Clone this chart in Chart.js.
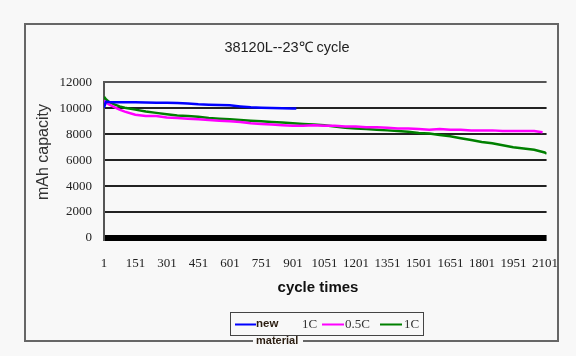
<!DOCTYPE html>
<html><head><meta charset="utf-8">
<script src="https://cdn.jsdelivr.net/npm/chart.js@4.4.1/dist/chart.umd.min.js"></script>
<style>html,body{margin:0;padding:0;background:#f8f8f8}canvas{display:block}</style>
</head><body>
<canvas id="c" width="576" height="356"></canvas>
<script>
// ---- data ----
const chartTitle = "38120L--23℃ cycle";
const xAxisTitle = "cycle times";
const yAxisTitle = "mAh capacity";
const cycleTicks = [1,151,301,451,601,751,901,1051,1201,1351,1501,1651,1801,1951,2101];
const yTicks = [0,2000,4000,6000,8000,10000,12000];

const seriesLabels = ["new material 1C", "0.5C", "1C"];

const cyclesNew = [1,10,25,50,75,100,150,200,250,300,350,400,450,500,550,600,650,700,750,800,850,900,917];
const capNew1C  = [10050,10500,10480,10470,10470,10460,10460,10450,10440,10430,10420,10380,10320,10280,10250,10230,10150,10080,10050,10020,10000,9990,9980];

const cycles05C = [1,10,25,50,75,100,150,200,250,300,350,400,450,500,550,600,650,700,750,800,850,900,950,1000,1050,1100,1150,1200,1250,1300,1350,1400,1450,1500,1550,1600,1650,1700,1750,1800,1850,1900,1950,2000,2050,2090];
const cap05C    = [10600,10450,10300,10100,9900,9750,9500,9400,9400,9300,9250,9200,9150,9100,9050,9000,8950,8850,8800,8750,8700,8650,8650,8700,8650,8650,8600,8600,8550,8550,8500,8450,8450,8400,8350,8400,8350,8350,8300,8300,8300,8250,8250,8250,8250,8150];

const cycles1C = [1,10,25,50,75,100,150,200,250,300,350,400,450,500,550,600,650,700,750,800,850,900,950,1000,1050,1100,1150,1200,1250,1300,1350,1400,1450,1500,1550,1600,1650,1700,1750,1800,1850,1900,1950,2000,2050,2100,2110];
const cap1C    = [10900,10700,10500,10300,10150,10050,9900,9750,9650,9550,9450,9400,9350,9250,9200,9150,9100,9050,9000,8950,8900,8850,8800,8750,8700,8600,8500,8450,8400,8350,8300,8250,8200,8100,8050,7950,7850,7700,7550,7400,7300,7150,7000,6900,6800,6600,6500];

const seriesColors = ["#0000ff", "#ff00ff", "#008000"];

function pts(xs, ys){ return xs.map((x,i)=>({x:x, y:ys[i]})); }

const BG = "#f8f8f8";

const decorPlugin = {
  id: 'decor',
  beforeDraw(chart){
    const c = chart.ctx;
    c.save();
    c.fillStyle = BG;
    c.fillRect(0,0,chart.width,chart.height);
    c.restore();
  },
  afterDraw(chart){
    const c = chart.ctx;
    c.save();
    // outer frame
    c.strokeStyle = "#666";
    c.lineWidth = 2;
    c.strokeRect(25, 24, 533, 317);
    // y axis title
    c.fillStyle = "#333";
    c.font = "16px 'Liberation Sans', Arial, sans-serif";
    c.textAlign = "center";
    c.textBaseline = "middle";
    c.translate(44, 152);
    c.rotate(-Math.PI/2);
    c.fillText(yAxisTitle, 0, 0);
    c.setTransform(1,0,0,1,0,0);
    // x axis title
    c.fillStyle = "#111";
    c.font = "bold 15px 'Liberation Sans', Arial, sans-serif";
    c.fillText(xAxisTitle, 318, 288);
    // legend
    const ds = chart.data.datasets;
    c.strokeStyle = "#444";
    c.lineWidth = 1;
    c.strokeRect(230.5, 312.5, 193, 23);
    const ly = 324.5;
    function seg(x0,x1,col){ c.strokeStyle=col; c.lineWidth=2; c.beginPath(); c.moveTo(x0,ly); c.lineTo(x1,ly); c.stroke(); }
    seg(235,256,ds[0].borderColor);
    seg(322,344,ds[1].borderColor);
    seg(380,402,ds[2].borderColor);
    const parts = ds[0].label.split(" ");
    c.textAlign = "left";
    c.font = "bold 11.5px 'Liberation Sans', Arial, sans-serif";
    c.fillStyle = "#2b1d10";
    c.fillText(parts[0], 256, 324);
    c.fillStyle = BG;
    c.fillRect(253, 336.5, 50, 9);
    c.fillStyle = "#2b1d10";
    c.font = "bold 11px 'Liberation Sans', Arial, sans-serif";
    c.fillText(parts[1], 256, 341);
    c.font = "13px 'Liberation Serif', 'DejaVu Serif', serif";
    c.fillStyle = "#333";
    c.fillText(parts[2], 302, 325);
    c.fillText(ds[1].label, 345, 325);
    c.fillText(ds[2].label, 404, 325);
    c.restore();
  }
};

new Chart(document.getElementById('c'), {
  type: 'line',
  data: {
    datasets: [
      {label: seriesLabels[0], data: pts(cyclesNew, capNew1C), borderColor: seriesColors[0], backgroundColor: seriesColors[0], borderWidth: 2.5, pointRadius: 0, tension: 0},
      {label: seriesLabels[1], data: pts(cycles05C, cap05C), borderColor: seriesColors[1], backgroundColor: seriesColors[1], borderWidth: 2.5, pointRadius: 0, tension: 0},
      {label: seriesLabels[2], data: pts(cycles1C, cap1C), borderColor: seriesColors[2], backgroundColor: seriesColors[2], borderWidth: 2.5, pointRadius: 0, tension: 0}
    ]
  },
  options: {
    responsive: false,
    animation: false,
    devicePixelRatio: 1,
    layout: {padding: {left: 24, right: 26, top: 24, bottom: 56}},
    plugins: {
      legend: {display: false},
      tooltip: {enabled: false},
      title: {
        display: true, text: chartTitle, color: "#222",
        font: {family: "'Liberation Sans', Arial, sans-serif", size: 14.5, weight: 'normal', lineHeight: 1.2},
        padding: {top: 15, bottom: 26}
      }
    },
    scales: {
      x: {
        type: 'linear', min: 1, max: 2109,
        afterBuildTicks: (s) => { s.ticks = cycleTicks.map(v => ({value: v})); },
        afterFit: (s) => { s.height = 62; },
        grid: {display: false, drawTicks: false},
        border: {display: false},
        ticks: {autoSkip: false, maxRotation: 0, padding: 18, color: "#222",
          callback: (v) => String(v),
          font: {family: "'Liberation Serif', 'DejaVu Serif', serif", size: 13}}
      },
      y: {
        min: 0, max: 12000,
        afterBuildTicks: (s) => { s.ticks = yTicks.map(v => ({value: v})); },
        afterFit: (s) => { s.width = 80; },
        grid: {
          drawTicks: false,
          color: (ctx) => ctx.tick && ctx.tick.value === 0 ? "#000" : (ctx.tick && ctx.tick.value === 12000 ? "#555" : "#222"),
          lineWidth: (ctx) => ctx.tick && ctx.tick.value === 0 ? 6 : 2
        },
        border: {display: true, color: "#555", width: 2},
        ticks: {padding: 12, color: "#222",
          callback: (v) => String(v),
          font: {family: "'Liberation Serif', 'DejaVu Serif', serif", size: 13}}
      }
    }
  },
  plugins: [decorPlugin]
});
</script>
</body></html>
